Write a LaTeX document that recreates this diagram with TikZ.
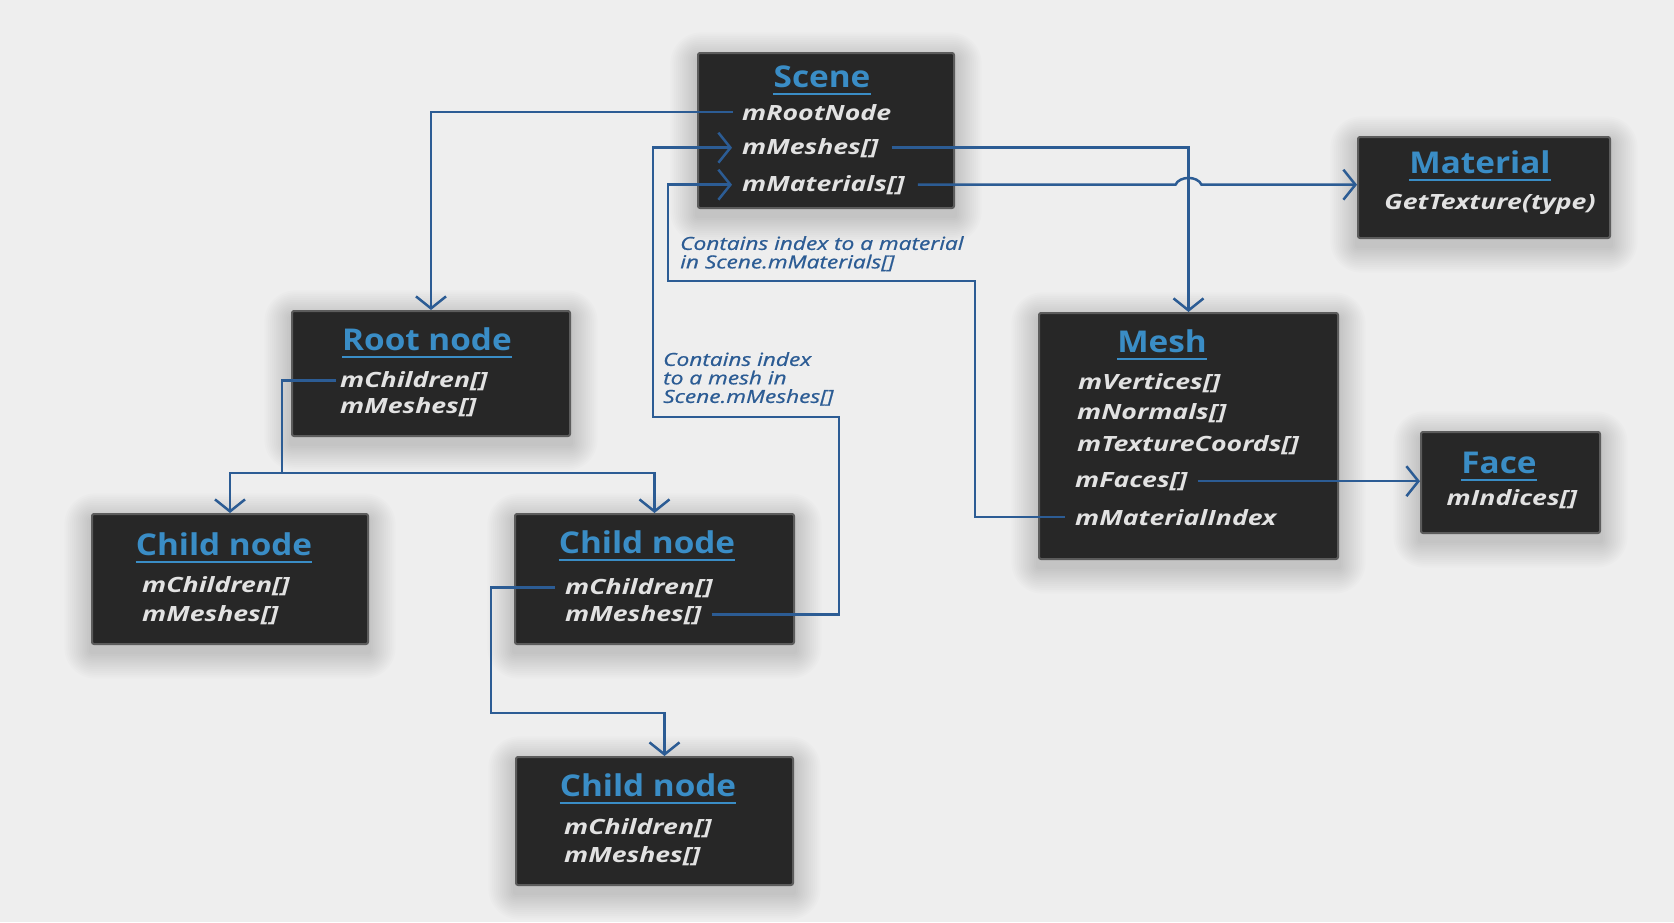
\documentclass[tikz,border=0pt]{standalone}
\usepackage{fontspec}
\setmainfont{Open Sans}
\newfontfamily\ttlfont[FakeStretch=1.11]{Open Sans}
\newfontfamily\fldfont[FakeStretch=1.27]{Open Sans}
\newfontfamily\lblfont[FakeStretch=1.26, FakeBold=0.8]{Open Sans}
\usetikzlibrary{arrows.meta,backgrounds}

\definecolor{bg}{HTML}{EEEEEE}
\definecolor{boxfill}{HTML}{272727}
\definecolor{boxedge}{HTML}{5C5C5C}
\definecolor{ttlblue}{HTML}{3A8DC6}
\definecolor{fldtext}{HTML}{E2E2E2}
\definecolor{lnk}{HTML}{2C5C94}

\tikzset{
  box/.style={draw=boxedge, line width=2pt, fill=boxfill, rounded corners=2pt,
    anchor=north west, inner sep=0pt},
  ttl/.style={text=ttlblue, font=\ttlfont\fontsize{30}{36}\selectfont\bfseries, inner sep=0pt, anchor=base},
  uline/.style={draw=ttlblue, line width=2pt},
  fld/.style={text=fldtext, font=\fldfont\fontsize{21}{25}\selectfont\bfseries\itshape, inner sep=0pt, anchor=base west},
  fldc/.style={fld, anchor=base},
  lbl/.style={text=lnk, font=\lblfont\fontsize{18}{18.5}\selectfont\itshape, inner sep=0pt,
    anchor=north west, align=left},
  link/.style={draw=lnk, line width=2.5pt},
  arr/.style={-{Straight Barb[length=12pt,width=30pt,line width=2.5pt]}},
  shade layer/.style={fill=black, opacity=0.011},
}

% underlined heading inside a box
\newcommand\heading[3]{%
  \node[ttl] (#1) at (#2) {#3};
  \draw[uline] ([yshift=-6.5pt]#1.base west) -- ([yshift=-6.5pt]#1.base east);
}

% soft drop shadow behind a box, built from stacked translucent rectangles
\newcommand\softshadow[1]{%
  \foreach \k in {1,...,14}{%
    \fill[shade layer, rounded corners=2.2*\k pt]
      ([shift={(-1.9*\k,-1.9*\k+7)}]#1.north west)
      rectangle ([shift={(1.9*\k,1.9*\k+7)}]#1.south east);
  }%
}

\begin{document}
\begin{tikzpicture}[x=1pt,y=-1pt]
  \useasboundingbox (0,0) rectangle (1674,922);

  % ---------- boxes ----------
  \node[box, minimum width=256pt, minimum height=155pt] (scene)    at (697,52)   {};
  \node[box, minimum width=252pt, minimum height=101pt] (material) at (1357,136) {};
  \node[box, minimum width=278pt, minimum height=125pt] (root)     at (291,310)  {};
  \node[box, minimum width=299pt, minimum height=246pt] (mesh)     at (1038,312) {};
  \node[box, minimum width=179pt, minimum height=101pt] (face)     at (1420,431) {};
  \node[box, minimum width=276pt, minimum height=130pt] (childA)   at (91,513)   {};
  \node[box, minimum width=279pt, minimum height=130pt] (childB)   at (514,513)  {};
  \node[box, minimum width=277pt, minimum height=128pt] (childC)   at (515,756)  {};

  \begin{scope}[on background layer]
    \fill[bg] (0,0) rectangle (1674,922);
    \foreach \b in {scene,material,root,mesh,face,childA,childB,childC}{\softshadow{\b}}
  \end{scope}

  % ---------- Scene ----------
  \heading{sceneT}{822,87}{Scene}
  \node[fld] (sRoot) at (742,120) {mRootNode};
  \node[fld] (sMesh) at (742,154) {mMeshes[]};
  \node[fld] (sMat)  at (742,191) {mMaterials[]};

  % ---------- Material ----------
  \heading{materialT}{1480,173}{Material}
  \node[fldc] (mGet) at (1490,209) {GetTexture(type)};

  % ---------- Root node ----------
  \heading{rootT}{427,350}{Root node}
  \node[fld] (rCh) at (340,387) {mChildren[]};
  \node[fld] (rMe) at (340,413) {mMeshes[]};

  % ---------- Mesh ----------
  \heading{meshT}{1162,352}{Mesh}
  \node[fld] (mVert) at (1078,389) {mVertices[]};
  \node[fld] (mNorm) at (1077,419) {mNormals[]};
  \node[fld] (mTex)  at (1077,451) {mTextureCoords[]};
  \node[fld] (mFac)  at (1075,487) {mFaces[]};
  \node[fld] (mMI)   at (1075,525) {mMaterialIndex};

  % ---------- Face ----------
  \heading{faceT}{1499,473}{Face}
  \node[fldc] (fInd) at (1512,505) {mIndices[]};

  % ---------- Child nodes ----------
  \heading{childAT}{224,555}{Child node}
  \node[fld] (aCh) at (142,592) {mChildren[]};
  \node[fld] (aMe) at (142,621) {mMeshes[]};

  \heading{childBT}{647,553}{Child node}
  \node[fld] (bCh) at (565,594) {mChildren[]};
  \node[fld] (bMe) at (565,621) {mMeshes[]};

  \heading{childCT}{648,796}{Child node}
  \node[fld] (cCh) at (564,834) {mChildren[]};
  \node[fld] (cMe) at (564,862) {mMeshes[]};

  % ---------- labels ----------
  \node[lbl] (matNote)  at (680,236) {Contains index to a material\\in Scene.mMaterials[]};
  \node[lbl] (meshNote) at (663,352) {Contains index\\to a mesh in\\Scene.mMeshes[]};

  % ---------- routing points ----------
  \coordinate (split)  at (282,473);
  \coordinate (bBend)  at (491,713);
  \coordinate (cIn)    at ([xshift=10pt]childC.north);
  \coordinate (loopR)  at (839,417);
  \coordinate (loopL)  at (653,417);
  \coordinate (miR)    at (975,281);
  \coordinate (miL)    at (668,281);
  \coordinate (hop)    at (sMat.east -| mesh.north);

  % ---------- connectors ----------
  \draw[link,arr] ([xshift=-9pt]sRoot.west) -| (root.north);
  \draw[link,arr] ([xshift=13pt]sMesh.east) -| (mesh.north);
  \draw[link,arr] ([xshift=13pt]sMat.east) -- ([xshift=-13pt]hop)
      .. controls +(4,-9) and +(-4,-9) .. ([xshift=13pt]hop)
      -- (sMat.east -| material.west);
  \draw[link,arr] ([xshift=10pt]mFac.east) -- (mFac.east -| face.west);

  \draw[link] ([xshift=-4pt]rCh.west) -| (split);
  \draw[link,arr] (split) -| (childA.north);
  \draw[link,arr] (split) -| (childB.north);

  \draw[link,arr] ([xshift=-10pt]bCh.west) -| (bBend) -| (cIn);
  \draw[link,arr] ([xshift=10pt]bMe.east) -| (loopR) -- (loopL)
      |- ([xshift=-10pt]sMesh.west);
  \draw[link,arr] ([xshift=-10pt]mMI.west) -| (miR) -- (miL)
      |- ([xshift=-10pt]sMat.west);
\end{tikzpicture}
\end{document}
